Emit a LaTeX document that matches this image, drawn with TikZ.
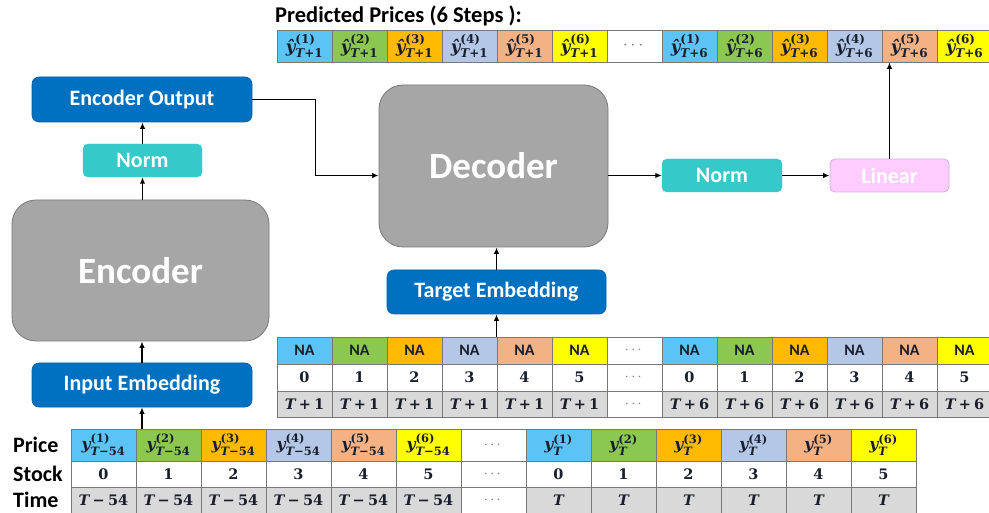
\documentclass[tikz,border=0pt]{standalone}
\usepackage{amsmath}
\usepackage[no-math]{fontspec}
\setmainfont{Carlito}
\newfontfamily\cellserif{DejaVu Serif}
\usetikzlibrary{arrows.meta}

\DeclareMathSizes{16.5}{16.5}{12}{9}
\DeclareMathSizes{15.5}{15.5}{11.5}{9}
\DeclareMathSizes{14.5}{14.5}{10.5}{8}

\definecolor{c1}{RGB}{91,196,245}
\definecolor{c2}{RGB}{140,199,80}
\definecolor{c3}{RGB}{255,185,0}
\definecolor{c4}{RGB}{180,199,231}
\definecolor{c5}{RGB}{244,177,131}
\definecolor{c6}{RGB}{255,255,0}
\definecolor{rowgrey}{RGB}{217,217,217}
\definecolor{gridc}{RGB}{120,120,120}
\definecolor{embblue}{RGB}{0,112,192}
\definecolor{normteal}{RGB}{54,201,201}
\definecolor{linpink}{RGB}{255,204,255}
\definecolor{linedge}{RGB}{214,170,230}
\definecolor{blockgrey}{RGB}{166,166,166}
\definecolor{blockedge}{RGB}{120,120,120}
\definecolor{inktext}{RGB}{25,30,45}

% bold serif pieces for the table entries
\newcommand{\vy}{\text{\itshape y}}
\newcommand{\vyhat}{\text{\itshape ŷ}}
\newcommand{\vT}{\text{\itshape T}}
\newcommand{\vn}[1]{\text{#1}}

\tikzset{
  cell/.style={draw=gridc, line width=0.8pt, inner sep=0pt, text=inktext},
  serifcell/.style={font=\cellserif\bfseries\fontsize{#1}{18}\selectfont},
  topcell/.style={cell, minimum width=55pt, minimum height=32pt, serifcell=16.5},
  tgtcell/.style={cell, minimum width=55pt, minimum height=27pt, serifcell=14.5},
  inpcell/.style={cell, minimum width=65pt, minimum height=#1, serifcell=14.5},
  pricecell/.style={cell, minimum width=65pt, minimum height=32pt, serifcell=15.5},
  natext/.style={font=\bfseries\fontsize{16}{18}\selectfont},
  rowlabel/.style={anchor=west, inner sep=0pt, text=black,
    font=\bfseries\fontsize{22}{24}\selectfont},
  embbox/.style={fill=embblue, draw=embblue!85!black, line width=0.6pt,
    rounded corners=7pt, text=white, font=\bfseries\fontsize{22}{24}\selectfont},
  normbox/.style={fill=normteal, draw=normteal, rounded corners=5pt,
    text=white, font=\bfseries\fontsize{22}{24}\selectfont},
  linbox/.style={fill=linpink, draw=linedge, line width=0.8pt, rounded corners=5pt,
    text=white, font=\bfseries\fontsize{22}{24}\selectfont},
  bigblock/.style={fill=blockgrey, draw=blockedge, line width=0.8pt,
    rounded corners=24pt, text=white, font=\bfseries\fontsize{37}{40}\selectfont},
  arr/.style={draw=black, line width=1.5pt, -{Latex[length=6.5pt,width=5.5pt]}},
}

\begin{document}
\begin{tikzpicture}[x=1pt,y=-1pt]
\useasboundingbox (0,0) rectangle (989,513);
\clip (0,0) rectangle (989,513);
\fill[white] (0,0) rectangle (989,513);

% heading and the row of forecast values
\node[anchor=base west, inner sep=0pt, font=\bfseries\fontsize{22.5}{26}\selectfont]
  (title) at (275,23) {Predicted Prices (6 Steps ):};
\foreach \i in {1,...,6} {
  \node[topcell, fill=c\i] (pa\i) at ({277+55*(\i-1)+27.5},46)
    {$\vyhat^{\vn{(\i)}}_{\vT\vn{+1}}$};
  \node[topcell, fill=c\i] (pb\i) at ({277+55*(\i+6)+27.5},46)
    {$\vyhat^{\vn{(\i)}}_{\vT\vn{+6}}$};
}
\node[topcell, fill=white] (pdots) at ({277+55*6+27.5},46) {\textcolor{gridc}{$\cdots$}};

% decoder input table
\foreach \i in {1,...,6} {
  \pgfmathtruncatemacro\s{\i-1}
  \node[tgtcell, fill=c\i, natext] (na\i) at ({277+55*(\i-1)+27.5},350.5) {NA};
  \node[tgtcell, fill=white] (ns\i) at ({277+55*(\i-1)+27.5},377.5) {\s};
  \node[tgtcell, fill=rowgrey, minimum height=26pt] (nt\i) at ({277+55*(\i-1)+27.5},404)
    {$\vT\mathbin{\vn{+}}\vn{1}$};
  \node[tgtcell, fill=c\i, natext] (nb\i) at ({277+55*(\i+6)+27.5},350.5) {NA};
  \node[tgtcell, fill=white] (ms\i) at ({277+55*(\i+6)+27.5},377.5) {\s};
  \node[tgtcell, fill=rowgrey, minimum height=26pt] (mt\i) at ({277+55*(\i+6)+27.5},404)
    {$\vT\mathbin{\vn{+}}\vn{6}$};
}
\node[tgtcell, fill=white] (nadots) at ({277+55*6+27.5},350.5) {\textcolor{gridc}{$\cdots$}};
\node[tgtcell, fill=white] (nsdots) at ({277+55*6+27.5},377.5) {\textcolor{gridc}{$\cdots$}};
\node[tgtcell, fill=white, minimum height=26pt] (ntdots) at ({277+55*6+27.5},404) {\textcolor{gridc}{$\cdots$}};

% encoder input table
\node[rowlabel] (lprice) at (13,445) {Price};
\node[rowlabel] (lstock) at (13,474) {Stock};
\node[rowlabel] (ltime) at (13,500) {Time};
\foreach \i in {1,...,6} {
  \pgfmathtruncatemacro\s{\i-1}
  \node[pricecell, fill=c\i] (ip\i) at ({71+65*(\i-1)+32.5},445)
    {$\vy^{\vn{(\i)}}_{\vT\mathbin{\vn{−}}\vn{54}}$};
  \node[inpcell=26pt, fill=white] (is\i) at ({71+65*(\i-1)+32.5},474) {\s};
  \node[inpcell=26pt, fill=rowgrey] (it\i) at ({71+65*(\i-1)+32.5},500)
    {$\vT\mathbin{\vn{−}}\vn{54}$};
  \node[pricecell, fill=c\i] (jp\i) at ({71+65*(\i+6)+32.5},445)
    {$\vy^{\vn{(\i)}}_{\vT}$};
  \node[inpcell=26pt, fill=white] (js\i) at ({71+65*(\i+6)+32.5},474) {\s};
  \node[inpcell=26pt, fill=rowgrey] (jt\i) at ({71+65*(\i+6)+32.5},500) {\itshape T};
}
\node[pricecell, fill=white] (ipdots) at ({71+65*6+32.5},445) {\textcolor{gridc}{$\cdots$}};
\node[inpcell=26pt, fill=white] (isdots) at ({71+65*6+32.5},474) {\textcolor{gridc}{$\cdots$}};
\node[inpcell=26pt, fill=white] (itdots) at ({71+65*6+32.5},500) {\textcolor{gridc}{$\cdots$}};

% encoder stack
\node[embbox, minimum width=220pt, minimum height=44pt] (inemb) at (142,385) {Input Embedding};
\node[bigblock, minimum width=257pt, minimum height=141pt] (encoder) at (140.5,270.5) {Encoder};
\node[normbox, minimum width=119pt, minimum height=33pt] (normenc) at (142.5,160.5) {Norm};
\node[embbox, minimum width=220pt, minimum height=45pt] (encout) at (142,99.5) {Encoder Output};

% decoder stack
\node[embbox, minimum width=219pt, minimum height=44pt] (tgtemb) at (496.5,292) {Target Embedding};
\node[bigblock, minimum width=229pt, minimum height=162pt] (decoder) at (493.5,166) {Decoder};
\node[normbox, minimum width=120pt, minimum height=33pt] (normdec) at (722,175.5) {Norm};
\node[linbox, minimum width=119pt, minimum height=33pt] (linear) at (889.5,175.5) {Linear};

% connectors
\draw[arr] (inemb.south |- ip2.north) -- (inemb.south);
\draw[arr] (inemb.north) -- (inemb.north |- encoder.south);
\draw[arr] (normenc.south |- encoder.north) -- (normenc.south);
\draw[arr] (normenc.north) -- (normenc.north |- encout.south);
\draw[arr] (encout.east) -- ++(63,0) |- (decoder.west |- normdec.west);
\draw[arr] (tgtemb.south |- na5.north) -- (tgtemb.south);
\draw[arr] (tgtemb.north) -- (tgtemb.north |- decoder.south);
\draw[arr] (decoder.east |- normdec.west) -- (normdec.west);
\draw[arr] (normdec.east) -- (linear.west);
\draw[arr] (linear.north) -- (linear.north |- pb5.south);
\end{tikzpicture}
\end{document}
